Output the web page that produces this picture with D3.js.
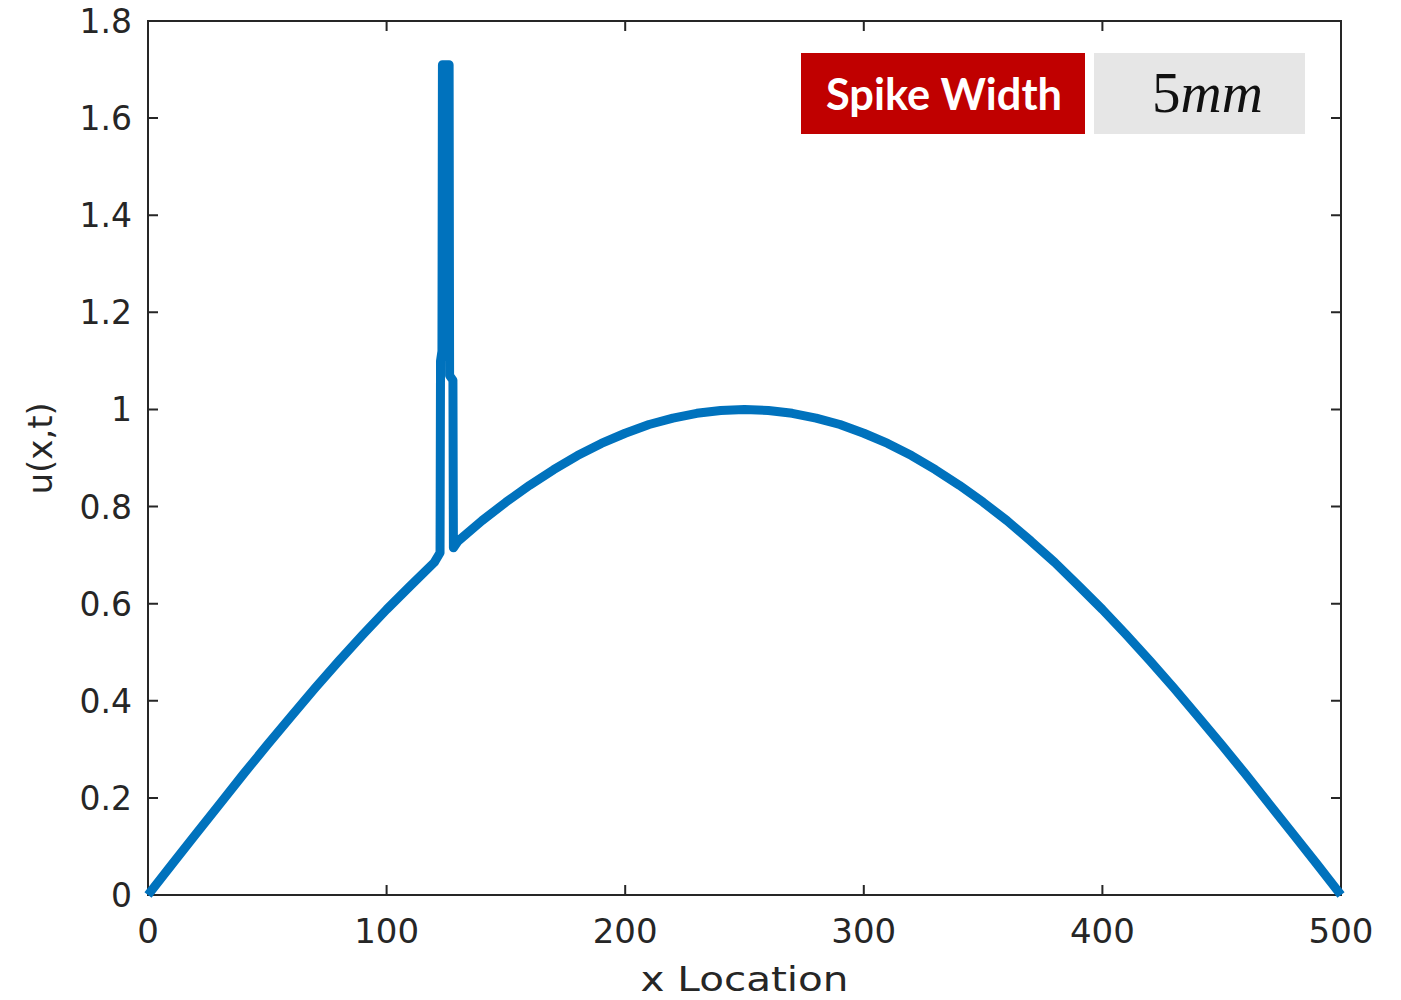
<!DOCTYPE html>
<html>
<head>
<meta charset="utf-8">
<script src="https://cdn.jsdelivr.net/npm/d3@7"></script>
<style>
  body { margin: 0; background: #fff; }
  svg { display: block; }
</style>
</head>
<body>
<script>
const WIDTH = 1401;
const HEIGHT = 1000;

// values
const xLoc = [0, 10, 20, 30, 40, 50, 60, 70, 80, 90, 100, 110, 120,
              122.4, 122.6, 123.2, 123.4, 126.2, 126.4, 127.8, 128.0,
              130, 140, 150, 160, 170, 180, 190, 200, 210, 220, 230, 240, 250,
              260, 270, 280, 290, 300, 310, 320, 330, 340, 350, 360, 370, 380,
              390, 400, 410, 420, 430, 440, 450, 460, 470, 480, 490, 500];
const uVal = [0, 0.063, 0.125, 0.187, 0.249, 0.309, 0.368, 0.426, 0.482, 0.536, 0.588, 0.637, 0.685,
              0.705, 1.10, 1.12, 1.71, 1.71, 1.07, 1.06, 0.715,
              0.729, 0.771, 0.809, 0.844, 0.876, 0.905, 0.930, 0.951, 0.969, 0.982, 0.992, 0.998, 1.0,
              0.998, 0.992, 0.982, 0.969, 0.951, 0.930, 0.905, 0.876, 0.844, 0.809, 0.771, 0.729, 0.685,
              0.637, 0.588, 0.536, 0.482, 0.426, 0.368, 0.309, 0.249, 0.187, 0.125, 0.063, 0];

const xTicks = [0, 100, 200, 300, 400, 500];
const yTicks = [0, 0.2, 0.4, 0.6, 0.8, 1, 1.2, 1.4, 1.6, 1.8];
const yTickLabels = ["0", "0.2", "0.4", "0.6", "0.8", "1", "1.2", "1.4", "1.6", "1.8"];

const legendLabel = "Spike Width";
const legendValue = ["5", "mm"];

const margin = {left: 148, right: 60, top: 21, bottom: 105};
const AXIS = "#262626";
const LINE = "#0072BD";

const svg = d3.select("body")
              .append("svg")
              .attr("width", WIDTH)
              .attr("height", HEIGHT);

svg.append("rect")
   .attr("width", WIDTH)
   .attr("height", HEIGHT)
   .attr("fill", "#fff");

const x = d3.scaleLinear()
            .domain([0, 500])
            .range([margin.left, WIDTH - margin.right]);

const y = d3.scaleLinear()
            .domain([0, 1.8])
            .range([HEIGHT - margin.bottom, margin.top]);

const drawAxes = () => {
  const tickLen = 10;
  const g = svg.append("g");

  // box
  g.append("rect")
   .attr("x", x(0))
   .attr("y", y(1.8))
   .attr("width", x(500) - x(0))
   .attr("height", y(0) - y(1.8))
   .attr("fill", "none")
   .attr("stroke", AXIS)
   .attr("stroke-width", 2);

  // ticks, inward on all four sides
  g.selectAll(".xt")
   .data(xTicks)
   .join("path")
   .attr("d", d => "M" + x(d) + "," + y(0) + "v" + (-tickLen) +
                   "M" + x(d) + "," + y(1.8) + "v" + tickLen)
   .attr("stroke", AXIS)
   .attr("stroke-width", 2);

  g.selectAll(".yt")
   .data(yTicks)
   .join("path")
   .attr("d", d => "M" + x(0) + "," + y(d) + "h" + tickLen +
                   "M" + x(500) + "," + y(d) + "h" + (-tickLen))
   .attr("stroke", AXIS)
   .attr("stroke-width", 2);

  g.selectAll(".xl")
   .data(xTicks)
   .join("text")
   .attr("x", d => x(d))
   .attr("y", y(0) + 48)
   .attr("text-anchor", "middle")
   .attr("font-family", "DejaVu Sans")
   .attr("font-size", 34)
   .attr("fill", AXIS)
   .text(d => d);

  g.selectAll(".yl")
   .data(yTicks)
   .join("text")
   .attr("x", x(0) - 16)
   .attr("y", d => y(d) + 12)
   .attr("text-anchor", "end")
   .attr("font-family", "DejaVu Sans")
   .attr("font-size", 33)
   .attr("fill", AXIS)
   .text((d, i) => yTickLabels[i]);

  g.append("text")
   .attr("x", (x(0) + x(500)) / 2)
   .attr("y", 991)
   .attr("text-anchor", "middle")
   .attr("font-family", "DejaVu Sans")
   .attr("font-size", 34)
   .attr("textLength", 208)
   .attr("lengthAdjust", "spacingAndGlyphs")
   .attr("fill", AXIS)
   .text("x Location");

  g.append("text")
   .attr("transform", "translate(52," + y(0.92) + ") rotate(-90)")
   .attr("text-anchor", "middle")
   .attr("font-family", "DejaVu Sans")
   .attr("font-size", 34)
   .attr("fill", AXIS)
   .text("u(x,t)");
}

const drawLine = () => {
  const pts = xLoc.map((d, i) => [d, uVal[i]]);
  const line = d3.line()
                 .x(d => x(d[0]))
                 .y(d => y(d[1]));
  svg.append("path")
     .datum(pts)
     .attr("d", line)
     .attr("fill", "none")
     .attr("stroke", LINE)
     .attr("stroke-width", 9)
     .attr("stroke-linejoin", "round");
}

const drawLegend = () => {
  const g = svg.append("g");
  g.append("rect")
   .attr("x", 801).attr("y", 53)
   .attr("width", 284).attr("height", 81)
   .attr("fill", "#C00000");
  g.append("rect")
   .attr("x", 1094).attr("y", 53)
   .attr("width", 211).attr("height", 81)
   .attr("fill", "#E6E6E6");
  g.append("text")
   .attr("x", 826).attr("y", 110)
   .attr("font-family", "Lato")
   .attr("font-weight", "bold")
   .attr("font-size", 43)
   .attr("textLength", 236)
   .attr("lengthAdjust", "spacingAndGlyphs")
   .attr("fill", "#fff")
   .text(legendLabel);
  const t = g.append("text")
   .attr("x", 1152).attr("y", 112)
   .attr("font-family", "Liberation Serif")
   .attr("font-size", 57)
   .attr("fill", "#111");
  t.append("tspan").text(legendValue[0]);
  t.append("tspan").attr("font-style", "italic").text(legendValue[1]);
}

drawAxes();
drawLine();
drawLegend();
</script>
</body>
</html>
